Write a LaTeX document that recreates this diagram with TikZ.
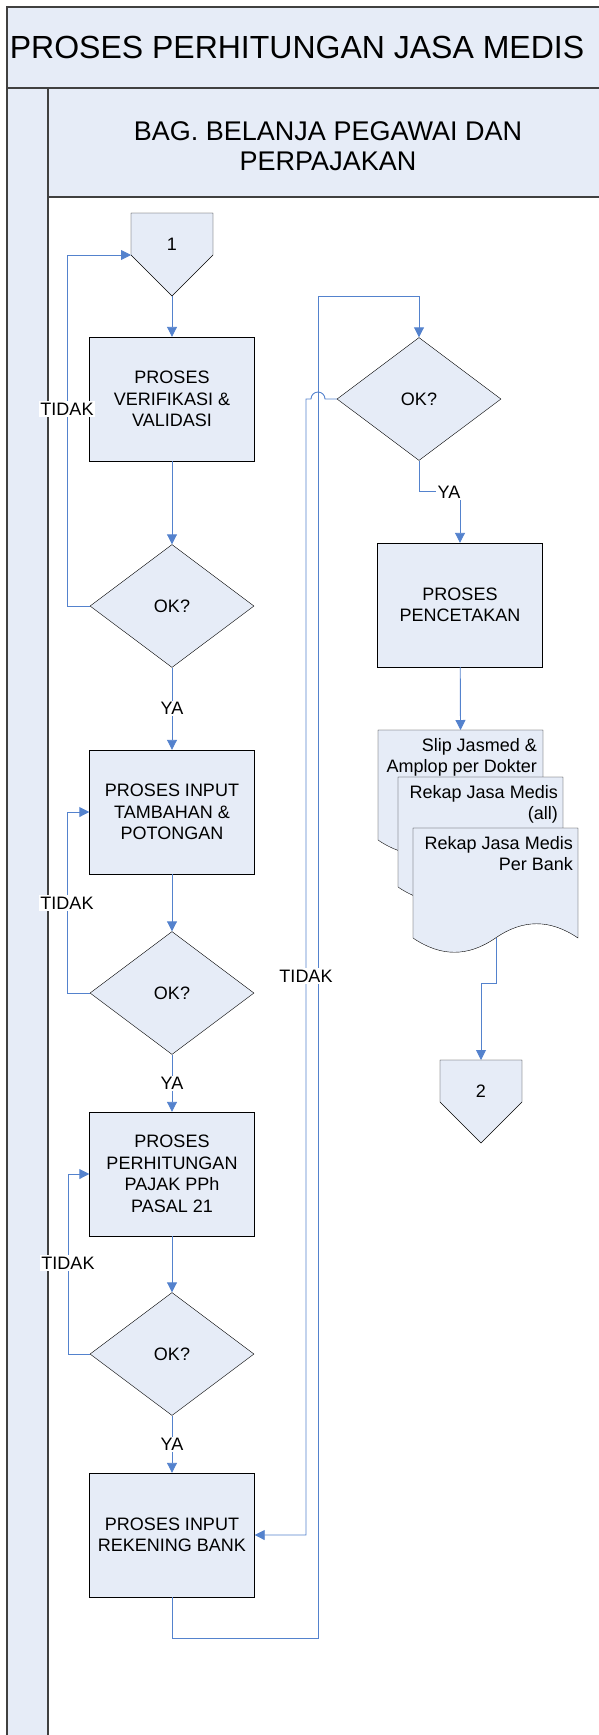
\documentclass[tikz,border=0pt]{standalone}
\usepackage{fontspec}
\setmainfont{Liberation Sans}
\usetikzlibrary{shapes.geometric,arrows.meta,positioning}

\definecolor{lanefill}{HTML}{E6ECF7}
\definecolor{flowblue}{RGB}{84,130,205}

% document sheet: left x, top y, name
\newcommand{\docpaper}[3]{%
 \draw[paper] (#1,#2) -- (#1+165,#2) -- (#1+165,#2+110)
   .. controls (#1+137,#2+91) and (#1+110,#2+91) .. (#1+82.5,#2+110)
   .. controls (#1+55,#2+129) and (#1+28,#2+129) .. (#1,#2+110) -- cycle;
 \coordinate (#3-top) at (#1+82.5,#2);
 \coordinate (#3-out) at (#1+83,#2+110);
}
% off-page connector: centre x, top y, name
\newcommand{\offconn}[3]{%
 \draw[paper] (#1-41,#2) -- (#1+41,#2) -- (#1+41,#2+42) -- (#1,#2+83) -- (#1-41,#2+42) -- cycle;
 \coordinate (#3-top) at (#1,#2);
 \coordinate (#3-tip) at (#1,#2+83);
 \coordinate (#3-left) at (#1-41,#2+42);
}

\begin{document}
\begin{tikzpicture}[x=1pt,y=-1pt,
 txt/.style={font=\fontsize{18}{21.5}\selectfont, align=center, inner sep=0},
 process/.style={txt, draw=black, fill=lanefill, minimum width=165, minimum height=124},
 decision/.style={txt, draw=black, fill=lanefill, diamond, minimum width=164, minimum height=123},
 paper/.style={draw=black, fill=lanefill},
 lanebox/.style={draw=black!75, line width=1.3pt, fill=lanefill},
 flow/.style={draw=flowblue, line width=0.9pt, -{Triangle[length=10pt,width=10pt]}},
 link/.style={draw=flowblue, line width=0.9pt},
 lbl/.style={txt, fill=white, inner sep=1.5pt}]

\useasboundingbox (0,0) rectangle (599,1735);

% pool and lane
\draw[lanebox] (7,7) rectangle (612,88);
\draw[lanebox] (48,88) rectangle (612,197);
\draw[lanebox] (7,88) rectangle (48,1750);
\node[font=\fontsize{32}{38}\selectfont, anchor=base] (title) at (297,58) {PROSES PERHITUNGAN JASA MEDIS};
\node[font=\fontsize{27}{30}\selectfont, align=center] (lane) at (328,146) {BAG. BELANJA PEGAWAI DAN\\PERPAJAKAN};

% left column
\offconn{172}{213}{one}
\node[txt] (onetxt) at (172,244) {1};
\node[process] (verif) at (172,399) {PROSES\\VERIFIKASI \&\\VALIDASI};
\node[decision] (ok1) at (172,606) {OK?};
\node[process] (input) at (172,812) {PROSES INPUT\\TAMBAHAN \&\\POTONGAN};
\node[decision] (ok2) at (172,993) {OK?};
\node[process] (pajak) at (172,1174) {PROSES\\PERHITUNGAN\\PAJAK PPh\\PASAL 21};
\node[decision] (ok3) at (172,1354) {OK?};
\node[process] (inbank) at (172,1535) {PROSES INPUT\\REKENING BANK};

% right column
\node[decision] (ok4) at (419,399) {OK?};
\node[process] (cetak) at (460,605) {PROSES\\PENCETAKAN};
\docpaper{378}{730}{slip}
\node[txt, align=right, anchor=north east] (sliptxt) at (537,738) {Slip Jasmed \&\\Amplop per Dokter};
\docpaper{398}{777}{all}
\node[txt, align=right, anchor=north east] (alltxt) at (558,785) {Rekap Jasa Medis\\(all)};
\docpaper{413}{828}{bank}
\node[txt, align=right, anchor=north east] (banktxt) at (573,836) {Rekap Jasa Medis\\Per Bank};
\offconn{481}{1060}{two}
\node[txt] (twotxt) at (481,1091) {2};

% connectors
\draw[flow] (one-tip) -- (verif.north);
\draw[flow] (verif) -- (ok1);
\draw[flow] (ok1) -- node[lbl] (ya1) {YA} (input);
\draw[flow] (input) -- (ok2);
\draw[flow] (ok2) -- node[lbl] (ya2) {YA} (pajak);
\draw[flow] (pajak) -- (ok3);
\draw[flow] (ok3) -- node[lbl] (ya3) {YA} (inbank);
\draw[flow] (ok1.west) -- ++(-22,0) |- (one-left);
\draw[flow] (ok2.west) -- ++(-22,0) |- (input.west);
\draw[flow] (ok3.west) -- ++(-21,0) |- (pajak.west);
\draw[flow] (inbank.south) -- ++(0,41) -| (318,296) -| (ok4.north);
\draw[flow] (ok4.west) -- (325,399) arc (0:-180:7) -- (306,399) |- (inbank.east);
\draw[flow] (ok4.south) -- ++(0,31) -| (cetak.north);
\draw[flow] (cetak) -- (slip-top);
\draw[flow] (bank-out) -- ++(0,45) -| (two-top);

% labels
\node[lbl] (no1) at (67,409) {TIDAK};
\node[lbl] (no2) at (67,903) {TIDAK};
\node[lbl] (no3) at (68,1263) {TIDAK};
\node[lbl] (no4) at (306,976) {TIDAK};
\node[lbl] (ya4) at (449,492) {YA};
\end{tikzpicture}
\end{document}
